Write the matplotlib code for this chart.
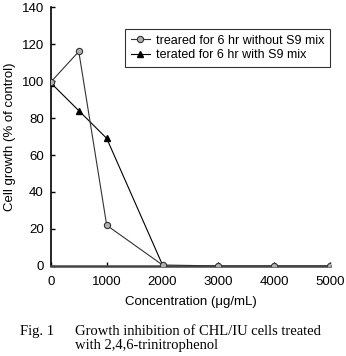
import numpy as np
import matplotlib
matplotlib.use('Agg')
import matplotlib.pyplot as plt

conc_no_s9 = [0, 500, 1000, 2000, 3000, 4000, 5000]
growth_no_s9 = [99.5, 116, 22, 0.5, 0, 0, 0]
conc_s9 = [0, 500, 1000, 2000]
growth_s9 = [99, 84, 69, 0.5]

label_no_s9 = 'treared for 6 hr without S9 mix'
label_s9 = 'terated for 6 hr with S9 mix'
caption_head = 'Fig. 1'
caption_body = 'Growth inhibition of CHL/IU cells treated\nwith 2,4,6-trinitrophenol'


def main():
    plt.rcParams['font.family'] = ['Liberation Sans', 'DejaVu Sans']
    fig = plt.figure(figsize=(3.46, 3.56), dpi=100)
    ax = fig.add_axes([0.147, 0.253, 0.807, 0.727])

    ax.plot(conc_s9, growth_s9, color='black', lw=0.8, marker='^',
            ms=5, mfc='black', mec='black', label=label_s9, zorder=2)
    ax.plot(conc_no_s9, growth_no_s9, color='#333333', lw=0.8, marker='o',
            ms=4.5, mfc='#b0b0b0', mec='#333333', mew=0.8,
            label=label_no_s9, zorder=3)

    ax.set_xlim(0, 5000)
    ax.set_ylim(0, 140)
    ax.set_xticks(np.arange(0, 5001, 1000))
    ax.set_yticks(np.arange(0, 141, 20))
    ax.tick_params(direction='in', length=3, width=1, labelsize=9.5)
    ax.tick_params(axis='x', pad=7)
    ax.tick_params(axis='y', pad=5)
    ax.spines['top'].set_visible(False)
    ax.spines['right'].set_visible(False)
    ax.spines['left'].set_linewidth(1.2)
    ax.spines['bottom'].set_linewidth(1.8)
    ax.spines['bottom'].set_color('#444444')

    ax.set_xlabel('Concentration (\u03bcg/mL)', fontsize=9.5, labelpad=6)
    ax.set_ylabel('Cell growth (% of control)', fontsize=9.5, labelpad=4)

    handles, labels = ax.get_legend_handles_labels()
    leg = ax.legend(handles[::-1], labels[::-1], loc='upper right',
                    bbox_to_anchor=(1.0, 0.915), fontsize=9, frameon=True,
                    fancybox=False, edgecolor='black', handlelength=1.5,
                    handletextpad=0.5, borderpad=0.45, labelspacing=0.2,
                    borderaxespad=0.0)
    leg.get_frame().set_linewidth(0.8)

    fig.text(20 / 346, 1 - 325 / 356, caption_head, fontsize=10.5,
             family='Liberation Serif', ha='left', va='top')
    fig.text(75 / 346, 1 - 325 / 356, caption_body, fontsize=10.5,
             family='Liberation Serif', ha='left', va='top', linespacing=1.05)

    fig.savefig('out.png', dpi=100)


if __name__ == '__main__':
    main()
